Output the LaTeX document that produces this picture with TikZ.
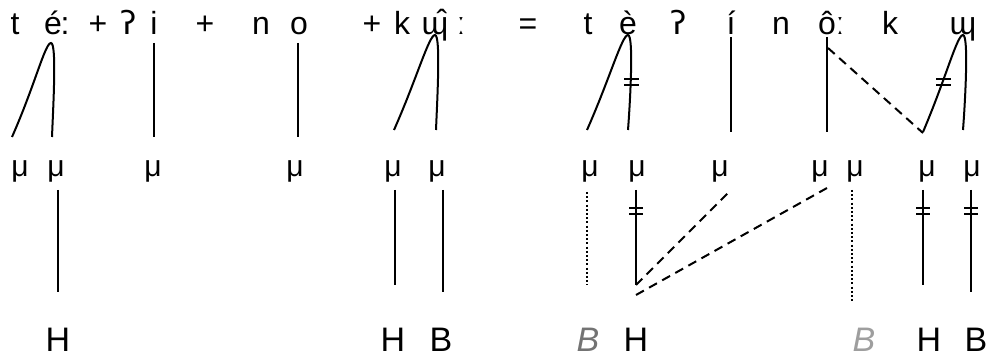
\documentclass[tikz,border=0pt]{standalone}
\usepackage{fontspec}
\setmainfont{Liberation Sans}
\newfontfamily\ipafont{DejaVu Sans}
\begin{document}
\begin{tikzpicture}[x=1pt,y=-1pt,
    seg/.style={inner sep=0pt,anchor=base,font=\fontsize{32}{36}\selectfont},
    mora/.style={inner sep=0pt,anchor=base,font=\fontsize{30}{34}\selectfont},
    tone/.style={inner sep=0pt,anchor=base,font=\fontsize{34}{38}\selectfont},
    ghost/.style={inner sep=0pt,anchor=base,font=\fontsize{34}{38}\selectfont\itshape},
    link/.style={line width=2pt},
    newlink/.style={link,dash pattern=on 9pt off 6pt},
    floatlink/.style={link,dash pattern=on 2pt off 2.2pt}]
    \useasboundingbox (0,0) rectangle (989,358);
    % 分節音
    \node[seg] (t1) at (15,35) {t};
    \node[seg] (e1) at (53,35) {é};
    \node[seg] (c1) at (65,35) {:};
    \node[seg] (p1) at (98,35) {+};
    \node[seg] (q1) at (129,35) {\ipafont ʔ};
    \node[seg] (i1) at (154,35) {i};
    \node[seg] (p2) at (205,35) {+};
    \node[seg] (n1) at (261,35) {n};
    \node[seg] (o1) at (299,35) {o};
    \node[seg] (p3) at (372,35) {+};
    \node[seg] (k1) at (402,35) {k};
    \node[seg] (w1) at (435,35) {ɰ};
    \node[seg] (w1acc) at (442,33) {ˆ};
    \node[seg] (c2) at (461,35) {ː};
    \node[seg] (eq) at (528,35) {=};
    \node[seg] (t2) at (588,35) {t};
    \node[seg] (e2) at (628,35) {è};
    \node[seg] (q2) at (679,35) {\ipafont ʔ};
    \node[seg] (i2) at (731,35) {í};
    \node[seg] (n2) at (781,35) {n};
    \node[seg] (o2) at (827,35) {ô};
    \node[seg] (c3) at (840,35) {ː};
    \node[seg] (k2) at (890,35) {k};
    \node[seg] (w2) at (963,35) {ɰ};
    % モーラ
    \foreach \name/\x in {m1/20,m2/56,m3/153,m4/295,m5/393,m6/437,m7/590,
        m8/637,m9/720,m10/820,m11/855,m12/927,m13/972}
        \node[mora] (\name) at (\x,177) {μ};
    % 声調
    \node[tone] (h1) at (58,352) {H};
    \node[tone] (h2) at (393,352) {H};
    \node[tone] (b1) at (441,352) {B};
    \node[ghost,text=black!55] (g1) at (588,352) {B};
    \node[tone] (h3) at (636,352) {H};
    \node[ghost,text=black!38] (g2) at (864,352) {B};
    \node[tone] (h4) at (929,352) {H};
    \node[tone] (b4) at (976,352) {B};
    % 連結線（分節音−モーラ）
    \coordinate (e1top) at (51,43);
    \coordinate (w1top) at (435,35);
    \coordinate (e2top) at (628,35);
    \coordinate (w2top) at (963,35);
    \draw[link] (12,137) .. controls (35,85) and (45,43) .. (e1top)
        .. controls (57,43) and (53,110) .. (52,137);
    \draw[link] (394,130) .. controls (417,78) and (429,35) .. (w1top)
        .. controls (441,35) and (437,104) .. (436,130);
    \draw[link] (587,130) .. controls (610,78) and (622,35) .. (e2top)
        .. controls (634,35) and (630,104) .. (628,130);
    \draw[link] (923,132) .. controls (946,78) and (957,35) .. (w2top)
        .. controls (969,35) and (965,104) .. (963,130);
    \draw[link] (154,43) -- (154,137);
    \draw[link] (298,43) -- (298,137);
    \draw[link] (731,37) -- (731,132);
    \draw[link] (827,37) -- (827,132);
    \draw[newlink] (828,48) -- (923,133);
    % 連結線（モーラ−声調）
    \draw[link] (58,190) -- (58,292);
    \draw[link] (395,190) -- (395,285);
    \draw[link] (443,190) -- (443,292);
    \draw[floatlink] (587,192) -- (587,285);
    \draw[link] (636,190) -- (636,285);
    \draw[newlink] (636,285) -- (731,190);
    \draw[newlink] (636,295) -- (827,188);
    \draw[floatlink] (852,190) -- (852,303);
    \draw[link] (923,190) -- (923,285);
    \draw[link] (971,190) -- (971,292);
    % 切断マーク
    \draw[line width=2pt] (624,79.5) -- (639,79.5) (624,85) -- (639,85);
    \draw[line width=2pt] (936,79.5) -- (951,79.5) (936,85) -- (951,85);
    \draw[line width=2pt] (629,208.5) -- (643,208.5) (629,214) -- (643,214);
    \draw[line width=2pt] (916,208.5) -- (930,208.5) (916,214) -- (930,214);
    \draw[line width=2pt] (964,208.5) -- (978,208.5) (964,214) -- (978,214);
\end{tikzpicture}
\end{document}
